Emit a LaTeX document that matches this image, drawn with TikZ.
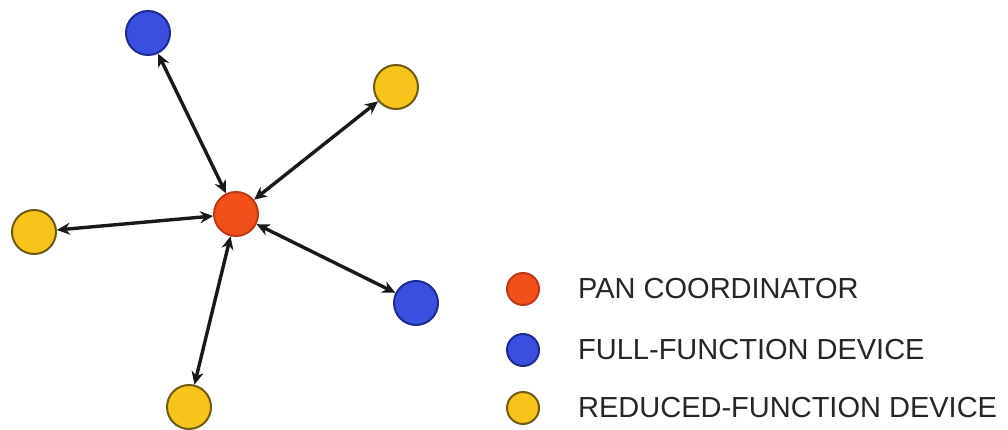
\documentclass[tikz,border=0pt]{standalone}
\usepackage{fontspec}
\setmainfont{Liberation Sans}
\usetikzlibrary{arrows.meta}
\definecolor{pancol}{HTML}{F2501A}
\definecolor{panedge}{HTML}{B83A1A}
\definecolor{ffdcol}{HTML}{3A4FE0}
\definecolor{ffdedge}{HTML}{1E2A90}
\definecolor{rfdcol}{HTML}{F7C41C}
\definecolor{rfdedge}{HTML}{6E5A10}
\definecolor{legtext}{HTML}{262626}
\begin{document}
\begin{tikzpicture}[x=1pt,y=-1pt,
  dev/.style={circle,minimum size=44pt,inner sep=0pt,line width=2pt},
  pan/.style={dev,fill=pancol,draw=panedge},
  ffd/.style={dev,fill=ffdcol,draw=ffdedge},
  rfd/.style={dev,fill=rfdcol,draw=rfdedge},
  legdot/.style={circle,minimum size=32pt,inner sep=0pt,line width=2pt},
  legtxt/.style={anchor=west,font=\fontsize{29}{32}\selectfont,text=legtext,inner sep=0pt},
  link/.style={{Stealth[length=13pt,width=12pt]}-{Stealth[length=13pt,width=12pt]},line width=3.4pt,black!90}]
\useasboundingbox (0,0) rectangle (1008,430);
% star network
\node[pan] (c) at (236,214) {};
\node[ffd] (n1) at (148,33) {};
\node[rfd] (n2) at (396,87) {};
\node[rfd] (n3) at (34,232) {};
\node[ffd] (n4) at (416,303) {};
\node[rfd] (n5) at (189,407) {};
\foreach \n in {n1,n2,n3,n4,n5}
  \draw[link] (c) -- (\n);
% legend
\node[legdot,fill=pancol,draw=panedge] (l1) at (523,289) {};
\node[legdot,fill=ffdcol,draw=ffdedge] (l2) at (523,350) {};
\node[legdot,fill=rfdcol,draw=rfdedge] (l3) at (523,408) {};
\node[legtxt] (t1) at (578,289) {PAN COORDINATOR};
\node[legtxt] (t2) at (578,350) {FULL-FUNCTION DEVICE};
\node[legtxt] (t3) at (578,408) {REDUCED-FUNCTION DEVICE};
\end{tikzpicture}
\end{document}
